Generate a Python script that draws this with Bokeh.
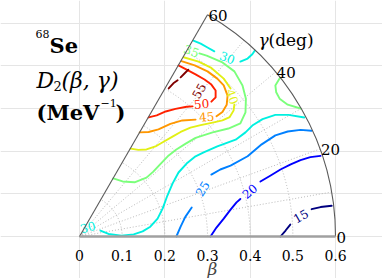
import numpy as np
from bokeh.plotting import figure
from bokeh.models import ColumnDataSource, Label
from bokeh.core.properties import value
from bokeh.embed import file_html
from bokeh.resources import INLINE

# ---------------- data ----------------
levels = [15, 20, 25, 30, 35, 40, 45, 50, 55]
level_colors = ["#000080", "#0000ff", "#0080ff", "#00f0e0", "#7bff7b",
                "#e2f015", "#ff9700", "#ff2100", "#800000"]

# contour lines, in (beta*cos(gamma), beta*sin(gamma)); one list per segment
c15_x = [[0.471, 0.483, 0.494], [0.544, 0.565, 0.591]]
c15_y = [[0.000, 0.014, 0.028], [0.064, 0.069, 0.072]]

c20_x = [[0.307, 0.321, 0.338, 0.354, 0.368, 0.377],
         [0.424, 0.448, 0.471, 0.495, 0.518, 0.541, 0.565]]
c20_y = [[0.000, 0.021, 0.042, 0.063, 0.080, 0.088],
         [0.129, 0.143, 0.157, 0.169, 0.179, 0.186, 0.189]]

c25_x = [[0.227, 0.237, 0.248, 0.263],
         [0.309, 0.330, 0.354, 0.394, 0.427, 0.459, 0.488, 0.518, 0.544]]
c25_y = [[0.000, 0.023, 0.046, 0.068],
         [0.145, 0.157, 0.166, 0.188, 0.216, 0.237, 0.246, 0.250, 0.248]]

c30_x = [[0.049, 0.068, 0.098, 0.127, 0.148, 0.166, 0.183, 0.195, 0.206, 0.218, 0.232,
          0.251, 0.272, 0.291, 0.323, 0.366, 0.389, 0.405, 0.429, 0.459, 0.490, 0.527],
         [0.267, 0.284, 0.300, 0.316],
         [0.377, 0.394, 0.405, 0.411]]
c30_y = [[0.014, 0.006, 0.002, 0.005, 0.012, 0.023, 0.042, 0.066, 0.096, 0.124, 0.150,
          0.171, 0.188, 0.197, 0.211, 0.227, 0.244, 0.260, 0.275, 0.285, 0.285, 0.279],
         [0.459, 0.452, 0.443, 0.434],
         [0.410, 0.417, 0.427, 0.436]]

c35_x = [[0.079, 0.101, 0.129, 0.157, 0.173, 0.190, 0.209, 0.227, 0.248, 0.272, 0.312,
          0.349, 0.377, 0.389, 0.390, 0.382, 0.363, 0.335, 0.298, 0.281],
         [0.470, 0.459, 0.461, 0.469, 0.488, 0.518]]
c35_y = [[0.136, 0.129, 0.127, 0.138, 0.152, 0.170, 0.190, 0.204, 0.217, 0.231, 0.244,
          0.253, 0.265, 0.291, 0.323, 0.354, 0.387, 0.408, 0.424, 0.429],
         [0.372, 0.354, 0.338, 0.323, 0.309, 0.300]]

c40_x = [[0.120, 0.138, 0.157, 0.178, 0.197, 0.218, 0.237, 0.260, 0.284, 0.312, 0.335,
          0.352, 0.361, 0.363],
         [0.354, 0.338, 0.309, 0.279, 0.244]]
c40_y = [[0.206, 0.203, 0.204, 0.211, 0.222, 0.234, 0.245, 0.255, 0.261, 0.267, 0.272,
          0.280, 0.295, 0.309],
         [0.347, 0.370, 0.395, 0.410, 0.420]]

c45_x = [[0.141, 0.162, 0.185, 0.213, 0.241, 0.272],
         [0.321, 0.335, 0.345, 0.347, 0.338, 0.323, 0.300, 0.270, 0.239]]
c45_y = [[0.244, 0.245, 0.251, 0.264, 0.272, 0.274],
         [0.282, 0.292, 0.309, 0.330, 0.354, 0.370, 0.387, 0.401, 0.411]]

c50_x = [[0.162, 0.181, 0.202, 0.225, 0.251, 0.265],
         [0.309, 0.319, 0.319, 0.309, 0.293, 0.272, 0.251, 0.232]]
c50_y = [[0.279, 0.284, 0.293, 0.299, 0.304, 0.305],
         [0.316, 0.326, 0.342, 0.356, 0.368, 0.380, 0.391, 0.401]]

c55_x = [[0.209, 0.220, 0.230], [0.237, 0.246, 0.255]]
c55_y = [[0.347, 0.359, 0.366], [0.373, 0.382, 0.391]]

# inline contour labels
label_level = [15, 20, 25, 30, 30, 35, 40, 45, 50, 55]
label_x = [0.518, 0.398, 0.287, 0.019, 0.347, 0.263, 0.359, 0.298, 0.286, 0.279]
label_y = [0.049, 0.107, 0.113, 0.023, 0.420, 0.436, 0.328, 0.282, 0.312, 0.342]
label_angle = [30, 40, 58, 15, -20, -20, -70, 5, 5, 60]

# axes / grid
beta_max = 0.6
beta_ticks = [0.0, 0.1, 0.2, 0.3, 0.4, 0.5, 0.6]
beta_tick_labels = ["0", "0.1", "0.2", "0.3", "0.4", "0.5", "0.6"]
gamma_ticks = [0, 20, 40, 60]
gamma_tick_labels = ["0", "20", "40", "60"]
grid_betas = [0.1, 0.2, 0.3, 0.4, 0.5]
grid_gammas = [10, 20, 30, 40, 50]

# ---------------- figure ----------------
K = 426.7
W, H = 382, 278
OX, OY = 79, 236
p = figure(width=W, height=H, x_range=(-OX / K, (W - OX) / K),
           y_range=((OY - H) / K, OY / K),
           output_backend="svg", toolbar_location=None,
           x_axis_location=None, y_axis_location=None, min_border=0)
p.outline_line_color = None
p.background_fill_color = "white"

FONT = "DejaVu Serif"
GRID_C = "#a8a8a8"
SIXTY = np.radians(60)

# grid
gg = np.radians(grid_gammas)
p.segment(x0=0, y0=0, x1=beta_max * np.cos(gg), y1=beta_max * np.sin(gg),
          line_color=GRID_C, line_width=0.8, line_dash="1 2")
p.arc(x=0, y=0, radius=grid_betas, start_angle=0, end_angle=SIXTY,
      line_color=GRID_C, line_width=0.8, line_dash="1 2")

# contours
all_x = [c15_x, c20_x, c25_x, c30_x, c35_x, c40_x, c45_x, c50_x, c55_x]
all_y = [c15_y, c20_y, c25_y, c30_y, c35_y, c40_y, c45_y, c50_y, c55_y]
xs, ys, cs = [], [], []
for lx, ly, col in zip(all_x, all_y, level_colors):
    for sx, sy in zip(lx, ly):
        xs.append(sx)
        ys.append(sy)
        cs.append(col)
p.multi_line(xs=xs, ys=ys, line_color=cs, line_width=1.9, line_cap="round", line_join="round")

lab_src = ColumnDataSource(dict(
    x=label_x, y=label_y, text=[str(v) for v in label_level],
    angle=list(np.radians(label_angle)),
    color=[level_colors[levels.index(v)] for v in label_level]))
p.text(x="x", y="y", text="text", angle="angle", text_color="color",
       source=lab_src, text_font=value(FONT), text_font_size="12px",
       text_align="center", text_baseline="middle")

# frame: 60-degree edge, outer arc, beta axis
p.segment(x0=0, y0=0, x1=beta_max * np.cos(SIXTY), y1=beta_max * np.sin(SIXTY),
          line_color="#5a5a5a", line_width=1.1)
p.arc(x=0, y=0, radius=beta_max, start_angle=0, end_angle=SIXTY,
      line_color="#5a5a5a", line_width=1.1)
p.segment(x0=0, y0=0, x1=beta_max, y1=0, line_color="#a0a0a0", line_width=2.6)

# beta tick labels
p.text(x=beta_ticks, y=[-19 / K] * len(beta_ticks), text=beta_tick_labels,
       text_font=value(FONT), text_font_size="14px", text_color="black",
       text_align="center", text_baseline="alphabetic")
p.add_layout(Label(x=133 / K, y=-32 / K, text="β", text_font=FONT,
                   text_font_style="italic", text_font_size="17px", text_color="#444444",
                   text_align="center", text_baseline="alphabetic"))

# gamma tick labels on the outer arc
gt = np.radians(gamma_ticks)
p.text(x=beta_max * np.cos(gt), y=beta_max * np.sin(gt), text=gamma_tick_labels,
       x_offset=1, y_offset=1,
       text_font=value(FONT), text_font_size="15px", text_color="black",
       text_align="left", text_baseline="alphabetic")


def lab(x, y, t, size, style="normal", align="left"):
    # x, y: pixel offsets from the origin of the beta-gamma plane
    p.add_layout(Label(x=x / K, y=y / K, text=t, text_font=FONT,
                       text_font_style=style, text_font_size=size, text_color="black",
                       text_align=align, text_baseline="alphabetic"))


lab(179, 197, "γ", "17px", "italic")
lab(189, 197, "(deg)", "17px")

# title block
lab(-44, 203, "68", "11px")
lab(-30, 191, "Se", "21px", "bold")
lab(-43, 156, "D", "22px", "italic")
lab(-26, 151, "2", "13px")
lab(-18, 156, "(β, γ)", "22px", "italic")
lab(-43, 124, "(MeV", "21px", "bold")
lab(21, 134, "−1", "11px")
lab(46, 124, ")", "21px", "bold", "right")

open("out.html", "w").write(file_html(p, INLINE))
